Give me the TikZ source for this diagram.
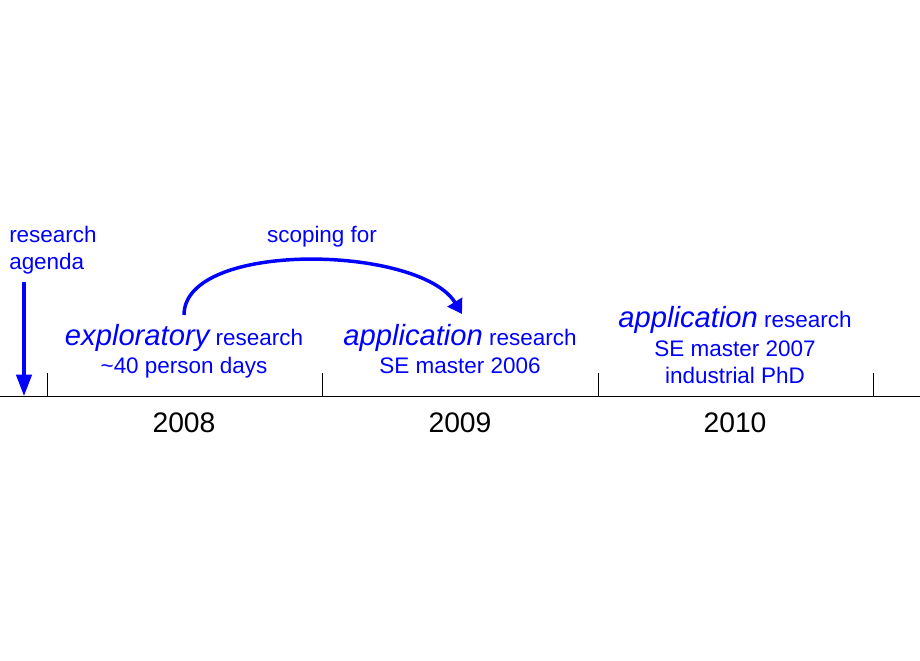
\documentclass[tikz,border=0pt]{standalone}
\usepackage{fontspec}
\setmainfont{Liberation Sans}
\usetikzlibrary{arrows.meta}
\definecolor{lblue}{RGB}{0,0,255}
\newcommand{\smallf}{\fontsize{16.85pt}{20pt}\selectfont}
\newcommand{\bigf}{\fontsize{21.9pt}{26pt}\selectfont\itshape}
\newcommand{\yearf}{\fontsize{21.2pt}{25pt}\selectfont}
\begin{document}
\begin{tikzpicture}[x=0.75pt,y=-0.75pt,
  lbl/.style={text=lblue,inner sep=0pt,anchor=base,font=\smallf},
  yr/.style={text=black,inner sep=0pt,anchor=base,font=\yearf},
  tick/.style={line width=0.75pt,black},
  bluearrow/.style={draw=lblue,line width=2.4pt,-{Triangle[length=16pt,width=11.5pt]}},
  curvearrow/.style={draw=lblue,line width=2.6pt,-{Triangle[length=10.5pt,width=12.5pt]}}]
\useasboundingbox (0,0) rectangle (920,660);
% axis
\coordinate (axL) at (0,396);
\coordinate (axR) at (920,396);
\draw[tick] (axL) -- (axR);
\foreach \i/\x in {1/47,2/322,3/598,4/873}{
  \coordinate (t\i a) at (\x,373);
  \coordinate (t\i b) at (\x,396);
  \draw[tick] (t\i a) -- (t\i b);
}
% years
\node[yr] (y2008) at (184,432) {2008};
\node[yr] (y2009) at (460,432) {2009};
\node[yr] (y2010) at (735,432) {2010};
% research agenda
\node[lbl,anchor=base west] (ra1) at (9,242) {research};
\node[lbl,anchor=base west] (ra2) at (9,269) {agenda};
\coordinate (raS) at (24,282);
\coordinate (raE) at (24,396);
\draw[bluearrow] (raS) -- (raE);
% labels
\node[lbl] (e1) at (184,345) {{\bigf exploratory} research};
\node[lbl] (e2) at (184,373) {\textasciitilde 40 person days};
\node[lbl] (a1) at (460,345) {{\bigf application} research};
\node[lbl] (a2) at (460,373) {SE master 2006};
\node[lbl] (b1) at (735,327) {{\bigf application} research};
\node[lbl] (b2) at (735,356) {SE master 2007};
\node[lbl] (b3) at (735,383) {industrial PhD};
% scoping
\node[lbl] (sc) at (322,242) {scoping for};
\coordinate (cs) at (184,315);
\coordinate (ce) at (462,314);
\draw[curvearrow] (cs) .. controls (184,240) and (420,245) .. (ce);
\end{tikzpicture}
\end{document}
